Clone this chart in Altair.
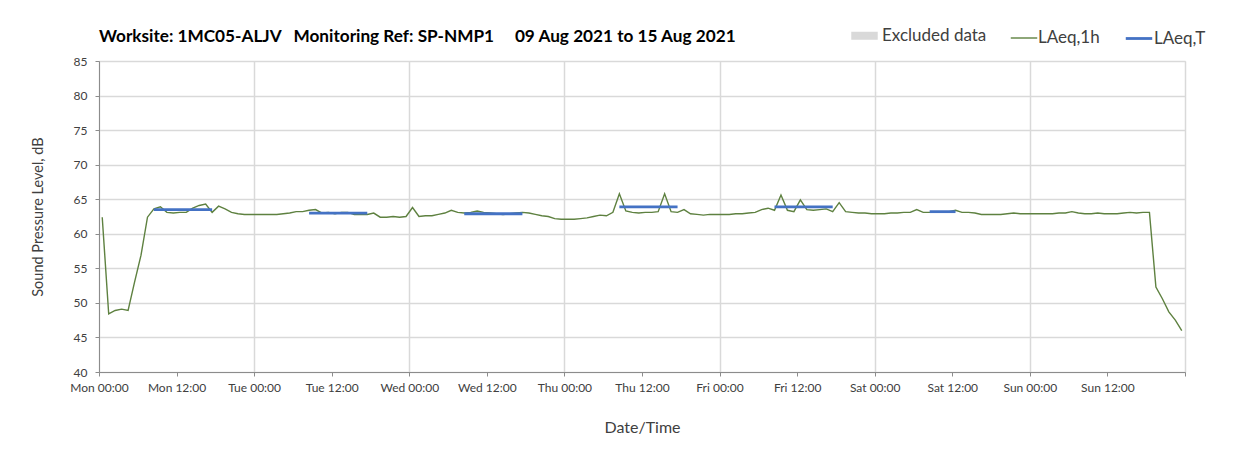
import json
import altair as alt
import pandas as pd

# ---------------- data ----------------
title_text = "Worksite: 1MC05-ALJV\u00a0\u00a0\u00a0Monitoring Ref: SP-NMP1\u00a0\u00a0\u00a0\u00a0\u00a009 Aug 2021 to 15 Aug 2021"

tick_labels = ["Mon 00:00", "Mon 12:00", "Tue 00:00", "Tue 12:00", "Wed 00:00", "Wed 12:00",
               "Thu 00:00", "Thu 12:00", "Fri 00:00", "Fri 12:00", "Sat 00:00", "Sat 12:00",
               "Sun 00:00", "Sun 12:00", ""]
tick_hours = [0, 12, 24, 36, 48, 60, 72, 84, 96, 108, 120, 132, 144, 156, 168]

series_names = ["Excluded data", "LAeq,1h", "LAeq,T"]
series_colors = ["#d9d9d9", "#5e8140", "#4472c4"]
series_widths = [8, 1.4, 2.8]

# hourly LAeq,1h values (one per hour, Mon 00:00 .. Sun 23:00)
mon = [62.4, 48.4, 48.9, 49.1, 48.9, 53.0, 56.9, 62.4, 63.6, 63.9, 63.1, 63.0,
       63.1, 63.1, 63.7, 64.1, 64.3, 63.1, 64.0, 63.6, 63.1, 62.9, 62.8, 62.8]
tue = [62.8, 62.8, 62.8, 62.8, 62.9, 63.0, 63.2, 63.2, 63.4, 63.5, 63.0, 63.1,
       62.9, 63.1, 63.1, 62.8, 62.8, 62.8, 63.0, 62.4, 62.4, 62.5, 62.4, 62.5]
wed = [63.8, 62.5, 62.6, 62.6, 62.8, 63.0, 63.4, 63.1, 63.0, 63.1, 63.3, 63.1,
       63.0, 62.9, 62.8, 62.9, 63.0, 63.1, 63.0, 62.8, 62.6, 62.5, 62.2, 62.1]
thu = [62.1, 62.1, 62.2, 62.3, 62.5, 62.7, 62.6, 63.1, 65.8, 63.3, 63.1, 63.0,
       63.1, 63.1, 63.2, 65.8, 63.2, 63.1, 63.5, 62.9, 62.8, 62.7, 62.8, 62.8]
fri = [62.8, 62.8, 62.9, 62.9, 63.0, 63.1, 63.5, 63.7, 63.4, 65.6, 63.4, 63.2,
       64.9, 63.5, 63.4, 63.5, 63.6, 63.2, 64.5, 63.2, 63.1, 63.0, 63.0, 62.9]
sat = [62.9, 62.9, 63.0, 63.0, 63.1, 63.1, 63.5, 63.1, 63.1, 63.1, 63.1, 63.2,
       63.4, 63.1, 63.1, 63.0, 62.8, 62.8, 62.8, 62.8, 62.9, 63.0, 62.9, 62.9]
sun = [62.9, 62.9, 62.9, 62.9, 63.0, 63.0, 63.2, 63.0, 62.9, 62.9, 63.0, 62.9,
       62.9, 62.9, 63.0, 63.1, 63.0, 63.1, 63.1, 52.3, 50.6, 48.7, 47.5, 46.0]

# LAeq,T periods (start hour, end hour, level)
period_start = [8, 32, 56, 80, 104, 128]
period_end = [17, 41, 65, 89, 113, 132]
period_level = [63.5, 63.0, 62.9, 63.9, 63.9, 63.2]

# ---------------- tables ----------------
hourly = mon + tue + wed + thu + fri + sat + sun
df_h = pd.DataFrame({
    "hour": [h + 0.5 for h in range(len(hourly))],
    "level": hourly,
    "series": "LAeq,1h",
})

rows = []
for i, (s, e, v) in enumerate(zip(period_start, period_end, period_level)):
    rows.append({"hour": s + 0.5, "level": v, "seg": i, "series": "LAeq,T"})
    rows.append({"hour": e + 0.5, "level": v, "seg": i, "series": "LAeq,T"})
df_t = pd.DataFrame(rows)

FONT = "Lato"
GRID = "#d9d9d9"
AX = "#8c8c8c"
TXT = "#404040"

label_expr = json.dumps(tick_labels) + "[round(datum.value / 12)]"

x_enc = alt.X(
    "hour:Q",
    scale=alt.Scale(domain=[0, 168], nice=False, zero=False),
    axis=alt.Axis(
        values=tick_hours, labelExpr=label_expr, title="Date/Time",
        grid=True, gridColor=GRID, gridWidth=1.5,
        gridOpacity={"condition": {"test": "datum.value % 24 === 0", "value": 1}, "value": 0},
        tickSize=4, tickColor=AX, domainColor=AX,
        labelFont=FONT, labelFontSize=12, labelColor=TXT, labelPadding=6,
        labelOverlap=False, labelFlush=False,
        titleFont=FONT, titleFontSize=16, titleFontWeight="normal", titleColor=TXT,
        titlePadding=26,
    ),
)
y_enc = alt.Y(
    "level:Q",
    scale=alt.Scale(domain=[40, 85], nice=False, zero=False),
    axis=alt.Axis(
        values=list(range(40, 90, 5)), title="Sound Pressure Level, dB",
        grid=True, gridColor=GRID, gridWidth=1.5,
        tickSize=4, tickColor=AX, domainColor=AX,
        labelFont=FONT, labelFontSize=12, labelColor=TXT, labelPadding=8,
        titleFont=FONT, titleFontSize=14.5, titleFontWeight="normal", titleColor=TXT,
        titlePadding=28,
    ),
)

legend = alt.Legend(
    title=None, orient="none", legendX=748, legendY=-43, direction="horizontal",
    symbolType="stroke", symbolSize=700, labelFont=FONT, labelFontSize=17,
    labelColor=TXT, labelOffset=0, columnPadding=20,
)
color_enc = alt.Color("series:N", scale=alt.Scale(domain=series_names, range=series_colors), legend=legend)
width_enc = alt.StrokeWidth("series:N",
                            scale=alt.Scale(type="ordinal", domain=series_names, range=series_widths),
                            legend=legend)

line_h = alt.Chart(df_h).mark_line().encode(x=x_enc, y=y_enc, color=color_enc, strokeWidth=width_enc)
line_t = alt.Chart(df_t).mark_line().encode(x=x_enc, y=y_enc, color=color_enc, strokeWidth=width_enc,
                                            detail="seg:N")

chart = (
    alt.layer(line_h, line_t)
    .properties(
        width=1086, height=311,
        autosize=alt.AutoSizeParams(type="none"),
        padding={"left": 91, "top": 53, "right": 40, "bottom": 70},
        title=alt.TitleParams(text=title_text, anchor="start", frame="group", font=FONT,
                              fontSize=17.2, fontWeight="bold", color="black", offset=0,
                              dy=27),
    )
    .configure_view(stroke=AX, strokeWidth=1)
    .configure(background="white")
)

chart.save("out.html", embed_options={"renderer": "svg", "actions": False})
